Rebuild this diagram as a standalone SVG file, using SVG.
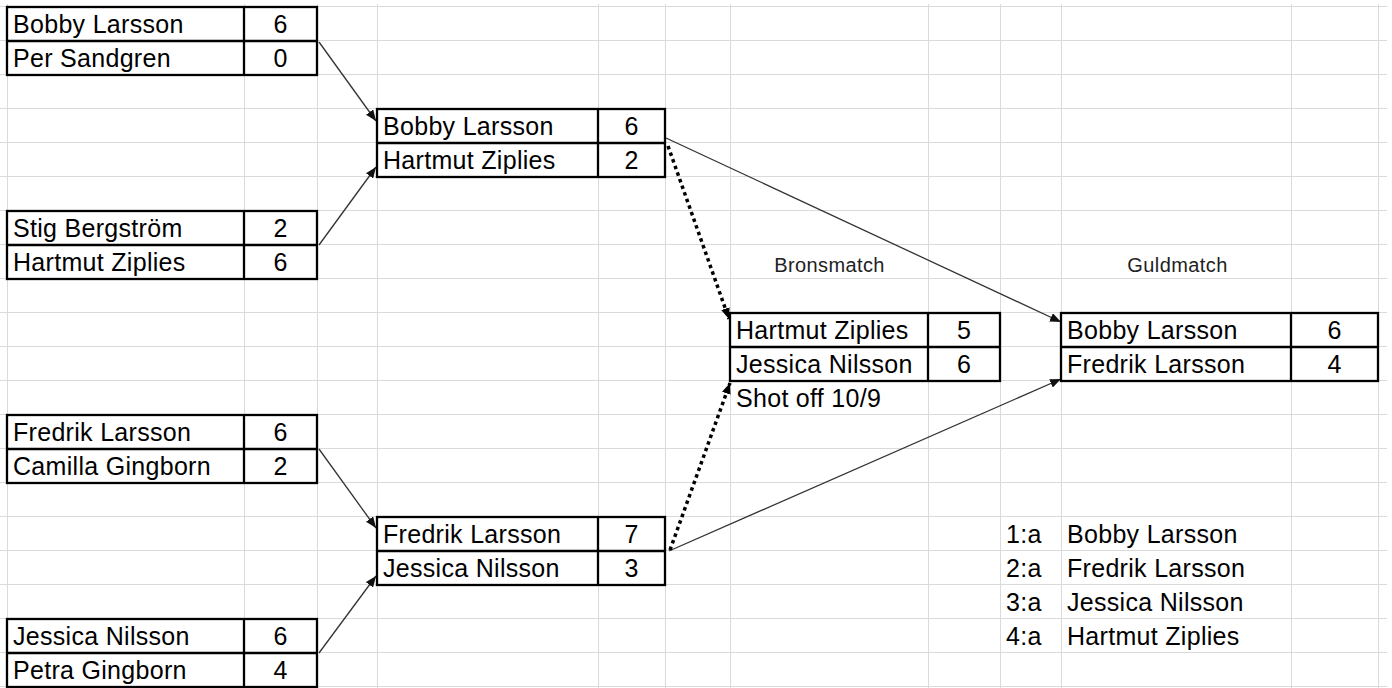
<svg xmlns="http://www.w3.org/2000/svg" width="1392" height="688" viewBox="0 0 1392 688">
<defs>
<style>
.grid line{stroke:#dadada;stroke-width:1}
.tb{fill:none;stroke:#000;stroke-width:2.3}
.nm{font-family:"Liberation Sans",Arial,sans-serif;font-size:25px;letter-spacing:0.3px;fill:#000}
.sc{font-family:"Liberation Sans",Arial,sans-serif;font-size:25px;fill:#000;text-anchor:middle}
.lb{font-family:"Liberation Sans",Arial,sans-serif;font-size:20px;letter-spacing:0.4px;fill:#222;text-anchor:middle}
.conn{stroke:#333;stroke-width:1.3;fill:none;marker-end:url(#ah)}
.dot{stroke:#000;stroke-width:3.5;fill:none;stroke-dasharray:3.5 3.5;marker-end:url(#ahd)}
</style>
<marker id="ah" markerUnits="userSpaceOnUse" markerWidth="11" markerHeight="9" refX="11" refY="4.5" orient="auto"><path d="M0,0 L11,4.5 L0,9 z" fill="#111"/></marker>
<marker id="ahd" markerUnits="userSpaceOnUse" markerWidth="11" markerHeight="9" refX="11" refY="4.5" orient="auto"><path d="M0,0 L11,4.5 L0,9 z" fill="#000"/></marker>
</defs>
<rect width="1392" height="688" fill="#fff"/>
<g class="grid">
<line x1="7.5" y1="4" x2="7.5" y2="688"/>
<line x1="244.5" y1="4" x2="244.5" y2="688"/>
<line x1="317.5" y1="4" x2="317.5" y2="688"/>
<line x1="377.5" y1="4" x2="377.5" y2="688"/>
<line x1="598.5" y1="4" x2="598.5" y2="688"/>
<line x1="665.5" y1="4" x2="665.5" y2="688"/>
<line x1="730.5" y1="4" x2="730.5" y2="688"/>
<line x1="928.5" y1="4" x2="928.5" y2="688"/>
<line x1="1000.5" y1="4" x2="1000.5" y2="688"/>
<line x1="1061.5" y1="4" x2="1061.5" y2="688"/>
<line x1="1291.5" y1="4" x2="1291.5" y2="688"/>
<line x1="1378.5" y1="4" x2="1378.5" y2="688"/>
<line x1="0" y1="6.5" x2="1387" y2="6.5"/>
<line x1="0" y1="40.5" x2="1387" y2="40.5"/>
<line x1="0" y1="74.5" x2="1387" y2="74.5"/>
<line x1="0" y1="108.5" x2="1387" y2="108.5"/>
<line x1="0" y1="142.5" x2="1387" y2="142.5"/>
<line x1="0" y1="176.5" x2="1387" y2="176.5"/>
<line x1="0" y1="210.5" x2="1387" y2="210.5"/>
<line x1="0" y1="244.5" x2="1387" y2="244.5"/>
<line x1="0" y1="278.5" x2="1387" y2="278.5"/>
<line x1="0" y1="312.5" x2="1387" y2="312.5"/>
<line x1="0" y1="346.5" x2="1387" y2="346.5"/>
<line x1="0" y1="380.5" x2="1387" y2="380.5"/>
<line x1="0" y1="414.5" x2="1387" y2="414.5"/>
<line x1="0" y1="448.5" x2="1387" y2="448.5"/>
<line x1="0" y1="482.5" x2="1387" y2="482.5"/>
<line x1="0" y1="516.5" x2="1387" y2="516.5"/>
<line x1="0" y1="550.5" x2="1387" y2="550.5"/>
<line x1="0" y1="584.5" x2="1387" y2="584.5"/>
<line x1="0" y1="618.5" x2="1387" y2="618.5"/>
<line x1="0" y1="652.5" x2="1387" y2="652.5"/>
<line x1="0" y1="686.5" x2="1387" y2="686.5"/>
</g>

<g id="connectors">
<line class="conn" x1="319" y1="42" x2="376" y2="121"/>
<line class="conn" x1="319" y1="245" x2="376" y2="167"/>
<line class="conn" x1="319" y1="449" x2="376" y2="528"/>
<line class="conn" x1="319" y1="653" x2="376" y2="576"/>
<line class="conn" x1="666" y1="138" x2="1061" y2="322"/>
<line class="conn" x1="669" y1="551" x2="1061" y2="379"/>
<line class="dot" x1="668" y1="146" x2="729" y2="319"/>
<line class="dot" x1="670" y1="550" x2="730" y2="383"/>
</g>

<g id="m1">
<rect class="tb" x="7" y="7" width="310" height="68"/>
<line class="tb" x1="7" y1="41" x2="317" y2="41"/>
<line class="tb" x1="244" y1="7" x2="244" y2="75"/>
<text class="nm" x="13" y="33">Bobby Larsson</text><text class="sc" x="280.5" y="33">6</text>
<text class="nm" x="13" y="67">Per Sandgren</text><text class="sc" x="280.5" y="67">0</text>
</g>
<g id="m2">
<rect class="tb" x="7" y="211" width="310" height="68"/>
<line class="tb" x1="7" y1="245" x2="317" y2="245"/>
<line class="tb" x1="244" y1="211" x2="244" y2="279"/>
<text class="nm" x="13" y="237">Stig Bergström</text><text class="sc" x="280.5" y="237">2</text>
<text class="nm" x="13" y="271">Hartmut Ziplies</text><text class="sc" x="280.5" y="271">6</text>
</g>
<g id="m3">
<rect class="tb" x="7" y="415" width="310" height="68"/>
<line class="tb" x1="7" y1="449" x2="317" y2="449"/>
<line class="tb" x1="244" y1="415" x2="244" y2="483"/>
<text class="nm" x="13" y="441">Fredrik Larsson</text><text class="sc" x="280.5" y="441">6</text>
<text class="nm" x="13" y="475">Camilla Gingborn</text><text class="sc" x="280.5" y="475">2</text>
</g>
<g id="m4">
<rect class="tb" x="7" y="619" width="310" height="68"/>
<line class="tb" x1="7" y1="653" x2="317" y2="653"/>
<line class="tb" x1="244" y1="619" x2="244" y2="687"/>
<text class="nm" x="13" y="645">Jessica Nilsson</text><text class="sc" x="280.5" y="645">6</text>
<text class="nm" x="13" y="679">Petra Gingborn</text><text class="sc" x="280.5" y="679">4</text>
</g>
<g id="semi1">
<rect class="tb" x="377" y="109" width="288" height="68"/>
<line class="tb" x1="377" y1="143" x2="665" y2="143"/>
<line class="tb" x1="598" y1="109" x2="598" y2="177"/>
<text class="nm" x="383" y="135">Bobby Larsson</text><text class="sc" x="631.5" y="135">6</text>
<text class="nm" x="383" y="169">Hartmut Ziplies</text><text class="sc" x="631.5" y="169">2</text>
</g>
<g id="semi2">
<rect class="tb" x="377" y="517" width="288" height="68"/>
<line class="tb" x1="377" y1="551" x2="665" y2="551"/>
<line class="tb" x1="598" y1="517" x2="598" y2="585"/>
<text class="nm" x="383" y="543">Fredrik Larsson</text><text class="sc" x="631.5" y="543">7</text>
<text class="nm" x="383" y="577">Jessica Nilsson</text><text class="sc" x="631.5" y="577">3</text>
</g>
<g id="bronze">
<text class="lb" x="829.5" y="272">Bronsmatch</text>
<rect class="tb" x="730" y="313" width="270" height="68"/>
<line class="tb" x1="730" y1="347" x2="1000" y2="347"/>
<line class="tb" x1="928" y1="313" x2="928" y2="381"/>
<text class="nm" x="736" y="339">Hartmut Ziplies</text><text class="sc" x="964" y="339">5</text>
<text class="nm" x="736" y="373">Jessica Nilsson</text><text class="sc" x="964" y="373">6</text>
<text class="nm" x="736" y="407">Shot off 10/9</text>
</g>
<g id="gold">
<text class="lb" x="1177.5" y="272">Guldmatch</text>
<rect class="tb" x="1061" y="313" width="317" height="68"/>
<line class="tb" x1="1061" y1="347" x2="1378" y2="347"/>
<line class="tb" x1="1291" y1="313" x2="1291" y2="381"/>
<text class="nm" x="1067" y="339">Bobby Larsson</text><text class="sc" x="1334.5" y="339">6</text>
<text class="nm" x="1067" y="373">Fredrik Larsson</text><text class="sc" x="1334.5" y="373">4</text>
</g>
<g id="standings">
<text class="nm" x="1006" y="543">1:a</text><text class="nm" x="1067" y="543">Bobby Larsson</text>
<text class="nm" x="1006" y="577">2:a</text><text class="nm" x="1067" y="577">Fredrik Larsson</text>
<text class="nm" x="1006" y="611">3:a</text><text class="nm" x="1067" y="611">Jessica Nilsson</text>
<text class="nm" x="1006" y="645">4:a</text><text class="nm" x="1067" y="645">Hartmut Ziplies</text>
</g>
</svg>
